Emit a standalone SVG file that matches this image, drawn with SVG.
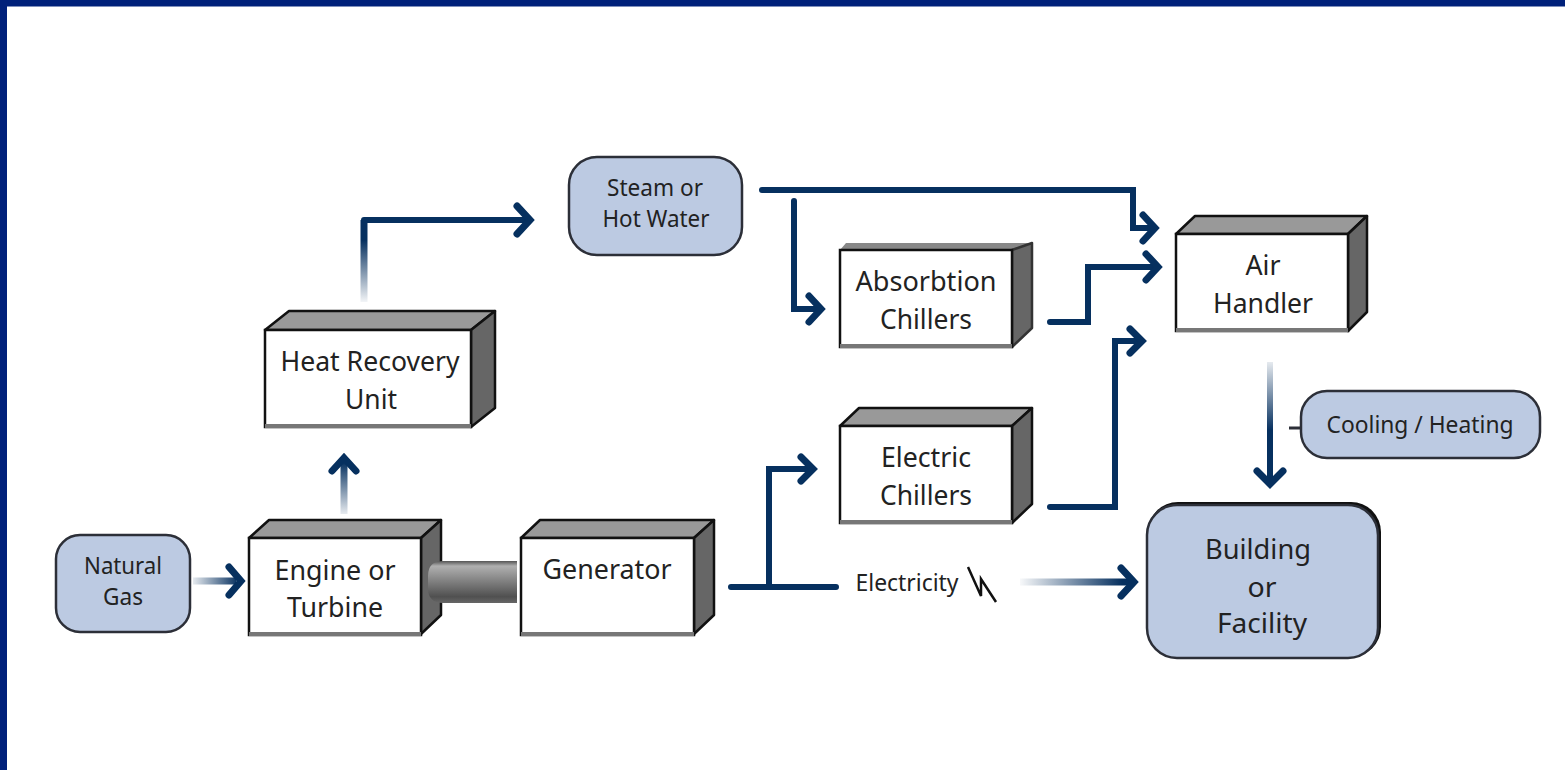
<svg xmlns="http://www.w3.org/2000/svg" width="1565" height="770" viewBox="0 0 1565 770">
<style>
.top{fill:#999;stroke:#111;stroke-width:2.5;stroke-linejoin:round}
.side{fill:#666;stroke:#111;stroke-width:2.5;stroke-linejoin:round}
.front{fill:#fff;stroke:#111;stroke-width:2.5}
.base{stroke:#777;stroke-width:4}
.pill{fill:#bccae2;stroke:#2c2f38;stroke-width:2.5}
text{font-family:"Noto Sans","Open Sans","Liberation Sans",sans-serif;fill:#222;text-anchor:middle;font-size:27px}
.s{font-size:24px}
.c{fill:none;stroke:#06305f;stroke-width:6;stroke-linecap:round;stroke-linejoin:miter}
.h{fill:none;stroke:#06305f;stroke-width:7;stroke-linecap:round;stroke-linejoin:miter}
</style>
<defs>
<linearGradient id="gNG" gradientUnits="userSpaceOnUse" x1="193" y1="0" x2="238" y2="0"><stop offset="0" stop-color="#06305f" stop-opacity="0.1"/><stop offset="1" stop-color="#06305f"/></linearGradient>
<linearGradient id="gUp" gradientUnits="userSpaceOnUse" x1="0" y1="514" x2="0" y2="462"><stop offset="0" stop-color="#06305f" stop-opacity="0.1"/><stop offset="1" stop-color="#06305f"/></linearGradient>
<linearGradient id="gHR" gradientUnits="userSpaceOnUse" x1="0" y1="302" x2="0" y2="240"><stop offset="0" stop-color="#06305f" stop-opacity="0.05"/><stop offset="1" stop-color="#06305f"/></linearGradient>
<linearGradient id="gEl" gradientUnits="userSpaceOnUse" x1="1020" y1="0" x2="1122" y2="0"><stop offset="0" stop-color="#06305f" stop-opacity="0.03"/><stop offset="1" stop-color="#06305f"/></linearGradient>
<linearGradient id="gAH" gradientUnits="userSpaceOnUse" x1="0" y1="362" x2="0" y2="430"><stop offset="0" stop-color="#06305f" stop-opacity="0.1"/><stop offset="1" stop-color="#06305f"/></linearGradient>
<linearGradient id="gShaft" x1="0" y1="0" x2="0" y2="1"><stop offset="0" stop-color="#555"/><stop offset="0.12" stop-color="#b0b0b0"/><stop offset="0.85" stop-color="#505050"/><stop offset="1" stop-color="#666"/></linearGradient>
</defs>
<rect width="1565" height="770" fill="#fff"/>
<rect width="1565" height="6.500" fill="#00207a"/>
<rect width="7" height="770" fill="#00207a"/>

<g id="natural-gas"><rect class="pill" x="56" y="535" width="134" height="97" rx="24"/><text class="s" x="123" y="574" textLength="78" lengthAdjust="spacingAndGlyphs">Natural</text><text class="s" x="123" y="605" textLength="40" lengthAdjust="spacingAndGlyphs">Gas</text></g>

<g id="engine"><polygon class="top" points="249,538 269,520 441,520 421,538"/><polygon class="side" points="421,538 441,520 441,615 421,634"/><rect class="front" x="249" y="538" width="172" height="97"/><path class="base" d="M249 634H421"/><text x="335" y="580" textLength="121" lengthAdjust="spacingAndGlyphs">Engine or</text><text x="335" y="617" textLength="96" lengthAdjust="spacingAndGlyphs">Turbine</text></g>

<g id="generator"><polygon class="top" points="521,538 540,520 714,520 694,538"/><polygon class="side" points="694,538 714,520 714,615 694,634"/><rect class="front" x="521" y="538" width="173" height="97"/><path class="base" d="M521 634H694"/><text x="607" y="579" textLength="129" lengthAdjust="spacingAndGlyphs">Generator</text></g>

<g id="shaft"><path d="M517 561H443Q428 561 428 576V588Q428 603 443 603H517Z" fill="url(#gShaft)"/></g>

<g id="heat-recovery"><polygon class="top" points="265,330 289,311 495,311 471,330"/><polygon class="side" points="471,330 495,311 495,408 471,427"/><rect class="front" x="265" y="330" width="206" height="97"/><path class="base" d="M265 426H471"/><text x="370" y="371" textLength="179" lengthAdjust="spacingAndGlyphs">Heat Recovery</text><text x="371" y="409" textLength="52" lengthAdjust="spacingAndGlyphs">Unit</text></g>

<g id="steam"><rect class="pill" x="569" y="157" width="173" height="98" rx="28"/><text class="s" x="655" y="196" textLength="96" lengthAdjust="spacingAndGlyphs">Steam or</text><text class="s" x="656" y="227" textLength="107" lengthAdjust="spacingAndGlyphs">Hot Water</text></g>

<g id="absorption"><polygon points="840,250 846,243 1032,243 1012,250" fill="#888"/><polygon class="side" points="1012,250 1032,243 1032,328 1012,347" style="stroke:#333"/><rect class="front" x="840" y="250" width="172" height="97"/><path class="base" d="M840 346H1012"/><text x="926" y="291" textLength="141" lengthAdjust="spacingAndGlyphs">Absorbtion</text><text x="926" y="329" textLength="92" lengthAdjust="spacingAndGlyphs">Chillers</text></g>

<g id="electric"><polygon class="top" points="840,426 859,408 1032,408 1012,426"/><polygon class="side" points="1012,426 1032,408 1032,504 1012,523"/><rect class="front" x="840" y="426" width="172" height="97"/><path class="base" d="M840 522H1012"/><text x="926" y="467" textLength="90" lengthAdjust="spacingAndGlyphs">Electric</text><text x="926" y="505" textLength="92" lengthAdjust="spacingAndGlyphs">Chillers</text></g>

<g id="air-handler"><polygon class="top" points="1176,234 1195,216 1367,216 1348,234"/><polygon class="side" points="1348,234 1367,216 1367,312 1348,331"/><rect class="front" x="1176" y="234" width="172" height="97"/><path class="base" d="M1176 330H1348"/><text x="1263" y="275" textLength="35" lengthAdjust="spacingAndGlyphs">Air</text><text x="1263" y="313" textLength="100" lengthAdjust="spacingAndGlyphs">Handler</text></g>

<g id="cooling-heating"><rect class="pill" x="1301" y="391" width="239" height="67" rx="26"/><text class="s" x="1420" y="433" textLength="187" lengthAdjust="spacingAndGlyphs">Cooling / Heating</text></g>

<g id="building"><rect x="1148" y="502" width="233" height="155" rx="30" fill="#111"/><rect class="pill" x="1147" y="505" width="231" height="153" rx="30"/><text x="1258" y="559" textLength="106" lengthAdjust="spacingAndGlyphs">Building</text><text x="1262" y="597" textLength="29" lengthAdjust="spacingAndGlyphs">or</text><text x="1262" y="633" textLength="90" lengthAdjust="spacingAndGlyphs">Facility</text></g>

<g id="electricity-label"><text class="s" x="907" y="591" textLength="103" lengthAdjust="spacingAndGlyphs">Electricity</text><path d="M968 567L981 596V579L996 602" fill="none" stroke="#111" stroke-width="2.500"/></g>

<g id="connectors">
<path d="M193 581H236" style="fill:none;stroke:url(#gNG);stroke-width:7"/><path class="h" d="M229 567L241 581L229 595"/>
<path d="M344 514V462" style="fill:none;stroke:url(#gUp);stroke-width:7"/><path class="h" d="M332 471L344 458L356 471"/>
<path d="M364 302V220" style="fill:none;stroke:url(#gHR);stroke-width:7"/><path class="c" d="M364 220H526"/><path class="h" d="M517 206L530 220L517 234"/>
<path class="c" d="M762 190H1133V228H1153"/><path class="h" d="M1143 215L1155 228L1143 241"/>
<path class="c" d="M794 201V309H818"/><path class="h" d="M809 296L821 309L809 322"/>
<path class="c" d="M1050 322H1088V267H1156"/><path class="h" d="M1146 254L1158 267L1146 280"/>
<path class="c" d="M1050 507H1115V341H1140"/><path class="h" d="M1130 329L1142 341L1130 353"/>
<path class="c" d="M731 587H836M769 587V469H810"/><path class="h" d="M801 457L813 469L801 481"/>
<path d="M1020 582H1130" style="fill:none;stroke:url(#gEl);stroke-width:7"/><path class="h" d="M1121 568L1134 582L1121 596"/>
<path d="M1270 362V480" style="fill:none;stroke:url(#gAH);stroke-width:6"/><path class="h" d="M1257 471L1270 484L1283 471"/>
<path d="M1289 428H1301" fill="none" stroke="#2c2f38" stroke-width="3"/>
</g>
</svg>
